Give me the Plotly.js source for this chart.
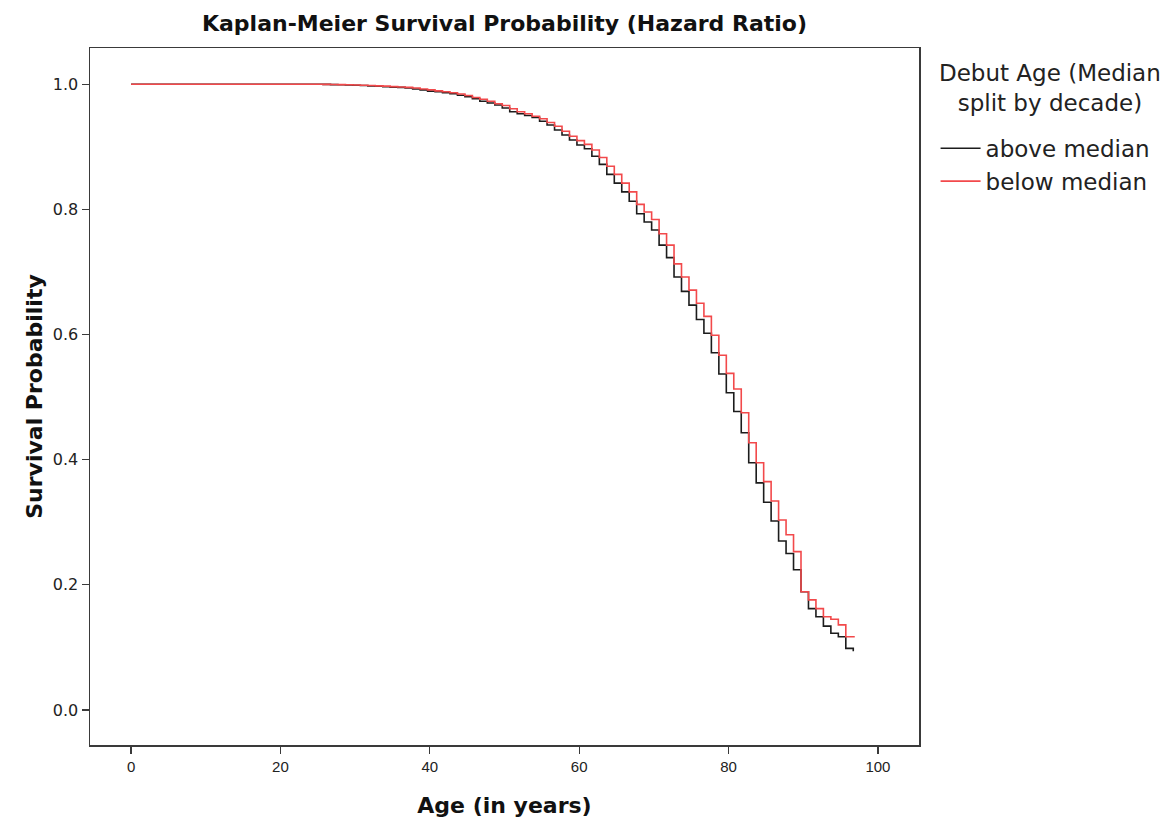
<!DOCTYPE html>
<html>
<head>
<meta charset="utf-8">
<script src="https://cdn.plot.ly/plotly-3.0.1.min.js"></script>
<style>html,body{margin:0;padding:0;background:#fff;}#chart{width:1171px;height:829px;}</style>
</head>
<body>
<div id="chart"></div>
<script>
// Event ages (years) at which the Kaplan-Meier estimate steps down
const stepAges = [0, 25.7, 26.7, 27.7, 28.7, 29.7, 30.7, 31.7, 32.7, 33.7, 34.7, 35.7, 36.7, 37.7, 38.7, 39.7,
  40.7, 41.7, 42.7, 43.7, 44.7, 45.7, 46.7, 47.7, 48.7, 49.7, 50.7, 51.7, 52.7, 53.7, 54.7, 55.7, 56.7, 57.7,
  58.7, 59.7, 60.7, 61.7, 62.7, 63.7, 64.7, 65.7, 66.7, 67.7, 68.7, 69.7, 70.7, 71.7, 72.7, 73.7, 74.7, 75.7,
  76.7, 77.7, 78.7, 79.7, 80.7, 81.7, 82.7, 83.7, 84.7, 85.7, 86.7, 87.7, 88.7, 89.7, 90.7, 91.7, 92.7, 93.7,
  94.7, 95.7, 96.7];

// Survival after each step, debut age above median
const survAbove = [1.0, 0.9998, 0.9995, 0.9992, 0.999, 0.9985, 0.998, 0.9975, 0.997, 0.996, 0.9955, 0.995,
  0.994, 0.9925, 0.991, 0.989, 0.988, 0.9865, 0.985, 0.9825, 0.980, 0.977, 0.973, 0.970, 0.967, 0.962, 0.956,
  0.953, 0.950, 0.947, 0.941, 0.935, 0.927, 0.919, 0.911, 0.903, 0.897, 0.885, 0.872, 0.856, 0.842, 0.828,
  0.813, 0.793, 0.780, 0.767, 0.743, 0.723, 0.692, 0.669, 0.647, 0.624, 0.602, 0.571, 0.537, 0.507, 0.477,
  0.443, 0.395, 0.363, 0.332, 0.302, 0.270, 0.250, 0.224, 0.189, 0.162, 0.149, 0.134, 0.1225, 0.117, 0.0985,
  0.095];

// Survival after each step, debut age below median
const survBelow = [1.0, 0.9998, 0.9996, 0.9994, 0.9992, 0.9988, 0.9985, 0.998, 0.9975, 0.997, 0.9963, 0.9957,
  0.995, 0.994, 0.9925, 0.991, 0.9895, 0.988, 0.9865, 0.9845, 0.982, 0.979, 0.976, 0.973, 0.969, 0.966, 0.961,
  0.956, 0.953, 0.949, 0.945, 0.939, 0.933, 0.925, 0.917, 0.910, 0.904, 0.895, 0.883, 0.869, 0.856, 0.842,
  0.828, 0.808, 0.796, 0.784, 0.761, 0.743, 0.713, 0.692, 0.671, 0.650, 0.629, 0.599, 0.567, 0.538, 0.513,
  0.475, 0.427, 0.395, 0.365, 0.334, 0.3035, 0.280, 0.253, 0.189, 0.176, 0.162, 0.149, 0.145, 0.136, 0.117];

// Last observed (censored) age for each group
const lastAgeAbove = 96.8;
const lastAgeBelow = 96.9;

const groupNames = ["above median", "below median"];
const legendTitle = "Debut Age (Median<br>split by decade)";
const xTicks = [0, 20, 40, 60, 80, 100];
const yTicks = [0.0, 0.2, 0.4, 0.6, 0.8, 1.0];

function series(ages, surv, lastAge) {
  const n = surv.length;
  const x = ages.slice(0, n).concat([lastAge]);
  const y = surv.slice().concat([surv[n - 1]]);
  return {x: x, y: y};
}
const a = series(stepAges, survAbove, lastAgeAbove);
const b = series(stepAges, survBelow, lastAgeBelow);

const wide = "DejaVu Sans, Verdana, sans-serif";
const arial = "Liberation Sans, Arial, sans-serif";

const traces = [
  {x: a.x, y: a.y, name: groupNames[0], type: "scatter", mode: "lines",
   line: {shape: "hv", color: "#1c1c1c", width: 1.6}},
  {x: b.x, y: b.y, name: groupNames[1], type: "scatter", mode: "lines",
   line: {shape: "hv", color: "#f2494b", width: 1.6}}
];

const layout = {
  width: 1171, height: 829,
  margin: {l: 90, r: 252, t: 48, b: 84},
  paper_bgcolor: "#ffffff", plot_bgcolor: "#ffffff",
  font: {family: wide, color: "#222"},
  title: {text: "<b>Kaplan-Meier Survival Probability (Hazard Ratio)</b>",
    font: {family: wide, size: 22, color: "#111"},
    xref: "paper", x: 0.5, xanchor: "center",
    yref: "container", y: 1 - 23 / 829, yanchor: "middle"},
  xaxis: {range: [-5.5, 105.5], tickvals: xTicks, ticktext: xTicks.map(String),
    showgrid: false, zeroline: false, showline: true, mirror: true,
    linecolor: "#3a3a3a", linewidth: 1.5,
    ticks: "outside", ticklen: 7, tickwidth: 1.3, tickcolor: "#3a3a3a",
    tickfont: {family: arial, size: 15, color: "#222"},
    title: {text: "<b>Age (in years)</b>", font: {family: wide, size: 22, color: "#111"}, standoff: 24}},
  yaxis: {range: [-0.056, 1.058], tickvals: yTicks, tickformat: ".1f",
    showgrid: false, zeroline: false, showline: true, mirror: true,
    linecolor: "#3a3a3a", linewidth: 1.5,
    ticks: "outside", ticklen: 7, tickwidth: 1.3, tickcolor: "#3a3a3a",
    tickfont: {family: wide, size: 16, color: "#222"},
    title: {text: "<b>Survival Probability</b>", font: {family: wide, size: 22, color: "#111"}, standoff: 4}},
  showlegend: true,
  legend: {x: 1.02, xanchor: "left", y: 0.887, yanchor: "top",
    font: {family: wide, size: 23, color: "#222"},
    bgcolor: "rgba(0,0,0,0)", borderwidth: 0, itemwidth: 40},
  annotations: [{text: legendTitle, xref: "paper", yref: "paper", x: 1.158, y: 0.942,
    xanchor: "center", yanchor: "middle", align: "center", showarrow: false,
    font: {family: wide, size: 23, color: "#222"}}]
};

Plotly.newPlot("chart", traces, layout, {staticPlot: true, displayModeBar: false});
</script>
</body>
</html>
